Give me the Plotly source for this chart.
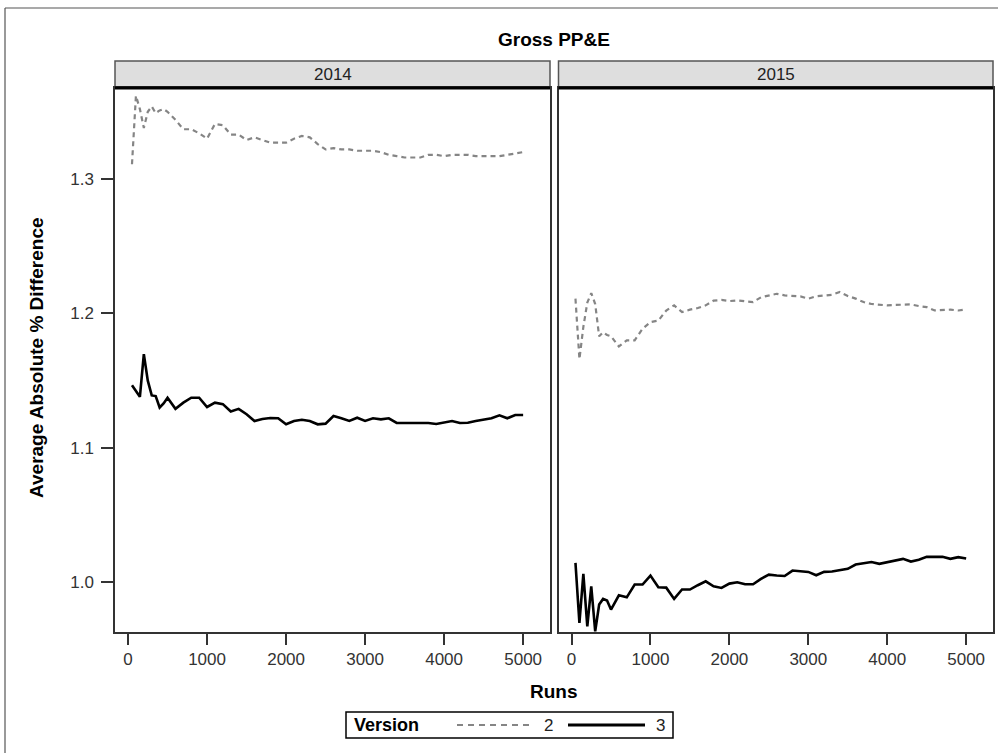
import plotly.graph_objects as go

W, H = 998, 753

runs = [50, 100, 150, 200, 250, 300, 350, 400, 450, 500,
        600, 700, 800, 900, 1000, 1100, 1200, 1300, 1400, 1500,
        1600, 1700, 1800, 1900, 2000, 2100, 2200, 2300, 2400, 2500,
        2600, 2700, 2800, 2900, 3000, 3100, 3200, 3300, 3400, 3500,
        3600, 3700, 3800, 3900, 4000, 4100, 4200, 4300, 4400, 4500,
        4600, 4700, 4800, 4900, 5000]

v2_2014 = [1.311, 1.362, 1.352, 1.338, 1.350, 1.354, 1.349, 1.351, 1.352, 1.350,
           1.344, 1.337, 1.337, 1.334, 1.330, 1.341, 1.340, 1.333, 1.333, 1.329,
           1.331, 1.329, 1.327, 1.327, 1.327, 1.330, 1.332, 1.331, 1.326, 1.322,
           1.323, 1.322, 1.322, 1.321, 1.321, 1.321, 1.320, 1.318, 1.317, 1.316,
           1.316, 1.316, 1.318, 1.318, 1.317, 1.318, 1.318, 1.318, 1.317, 1.317,
           1.317, 1.317, 1.318, 1.319, 1.320]

v3_2014 = [1.1466, 1.142, 1.138, 1.1697, 1.150, 1.139, 1.1385, 1.130, 1.133, 1.1373,
           1.129, 1.1336, 1.1373, 1.1373, 1.1304, 1.1336, 1.1325, 1.127, 1.129, 1.125,
           1.120, 1.1215, 1.1222, 1.122, 1.1175, 1.120, 1.1209, 1.120, 1.1175, 1.118,
           1.1237, 1.122, 1.120, 1.1224, 1.120, 1.122, 1.1212, 1.122, 1.1185, 1.1185,
           1.1185, 1.1185, 1.1185, 1.1178, 1.119, 1.120, 1.1185, 1.1187, 1.120, 1.1212,
           1.122, 1.1242, 1.122, 1.1244, 1.1244]

v2_2015 = [1.211, 1.166, 1.190, 1.208, 1.2151, 1.207, 1.183, 1.186, 1.184, 1.183,
           1.1754, 1.180, 1.180, 1.1886, 1.1935, 1.1947, 1.2022, 1.206, 1.201, 1.2028,
           1.204, 1.206, 1.2095, 1.210, 1.2092, 1.2097, 1.209, 1.2085, 1.212, 1.2135,
           1.2146, 1.2134, 1.213, 1.2127, 1.211, 1.2127, 1.2133, 1.2139, 1.2159, 1.213,
           1.211, 1.2085, 1.207, 1.2067, 1.206, 1.2063, 1.2067, 1.2067, 1.2055, 1.2047,
           1.2022, 1.2025, 1.2028, 1.2022, 1.203]

v3_2015 = [1.0144, 0.9697, 1.0062, 0.9672, 0.997, 0.9635, 0.9834, 0.9876, 0.9865, 0.9797,
           0.9903, 0.9888, 0.9983, 0.9983, 1.005, 0.9963, 0.996, 0.9876, 0.9946, 0.9946,
           0.9978, 1.0007, 0.997, 0.9958, 0.999, 1.000, 0.9985, 0.9985, 1.0025, 1.0057,
           1.005, 1.0047, 1.0087, 1.0082, 1.0077, 1.0052, 1.0077, 1.008, 1.0092, 1.010,
           1.0132, 1.014, 1.0151, 1.0137, 1.0151, 1.0165, 1.0174, 1.0154, 1.0167, 1.0189,
           1.0189, 1.0189, 1.0174, 1.0187, 1.0177]

years = ["2014", "2015"]
versions = ["2", "3"]
x_ticks = [0, 1000, 2000, 3000, 4000, 5000]
y_ticks = [1.0, 1.1, 1.2, 1.3]

FONT = "Liberation Sans, Arial, sans-serif"
GREY = "#858585"


def X(px):
    return px / W


def Y(py):
    return 1 - py / H


fig = go.Figure()

series = [("x", "y", v2_2014, "2"), ("x", "y", v3_2014, "3"),
          ("x2", "y2", v2_2015, "2"), ("x2", "y2", v3_2015, "3")]
for xa, ya, vals, ver in series:
    if ver == "2":
        line = dict(color=GREY, width=2.2, dash="5px,4px")
    else:
        line = dict(color="black", width=2.6)
    fig.add_trace(go.Scatter(x=runs, y=vals, mode="lines", line=line,
                             xaxis=xa, yaxis=ya, showlegend=False,
                             name="Version " + ver))

P1 = (115, 550)
P2 = (558.5, 993)
TOP, BOT = 88, 632
XR = [-165, 5340]
YR = [0.963, 1.3677]

axis_common = dict(showgrid=False, zeroline=False, showline=True, mirror=True,
                   linecolor="#333333", linewidth=1.5)
xcommon = dict(axis_common, range=XR, tickvals=x_ticks, ticks="outside",
               ticklen=11, tickwidth=1.5, tickcolor="#333333",
               tickfont=dict(family=FONT, size=17, color="#333333"))

fig.update_layout(
    width=W, height=H,
    margin=dict(l=0, r=0, t=0, b=0),
    paper_bgcolor="white", plot_bgcolor="white",
    showlegend=False,
    xaxis=dict(xcommon, domain=[X(P1[0]), X(P1[1])], anchor="y"),
    xaxis2=dict(xcommon, domain=[X(P2[0]), X(P2[1])], anchor="y2"),
    yaxis=dict(axis_common, domain=[Y(BOT), Y(TOP)], range=YR, anchor="x",
               tickvals=y_ticks, tickformat=".1f", ticks="outside",
               ticklen=12, tickwidth=1.5, tickcolor="#333333",
               ticklabelstandoff=4,
               tickfont=dict(family=FONT, size=17, color="#333333")),
    yaxis2=dict(axis_common, domain=[Y(BOT), Y(TOP)], range=YR, anchor="x2",
                showticklabels=False, ticks=""),
)

shapes = []
annotations = []

# outer frame (left and top edges)
shapes.append(dict(type="line", xref="paper", yref="paper",
                   x0=X(5), x1=X(998), y0=Y(8), y1=Y(8),
                   line=dict(color="#555555", width=1.2)))
shapes.append(dict(type="line", xref="paper", yref="paper",
                   x0=X(5), x1=X(5), y0=Y(8), y1=Y(753),
                   line=dict(color="#555555", width=1.2)))

# panel headers
for (l, r), yr in zip([P1, P2], years):
    shapes.append(dict(type="rect", xref="paper", yref="paper",
                       x0=X(l), x1=X(r), y0=Y(87), y1=Y(61),
                       fillcolor="#dedede", line=dict(color="#555555", width=1.5),
                       layer="below"))
    shapes.append(dict(type="line", xref="paper", yref="paper",
                       x0=X(l), x1=X(r), y0=Y(88), y1=Y(88),
                       line=dict(color="black", width=3)))
    annotations.append(dict(xref="paper", yref="paper", x=X((l + r) / 2), y=Y(74.5),
                            text=yr, showarrow=False, xanchor="center", yanchor="middle",
                            font=dict(family=FONT, size=17, color="#222222")))

# title
annotations.append(dict(xref="paper", yref="paper", x=X(554), y=Y(40),
                        text="<b>Gross PP&E</b>", showarrow=False,
                        xanchor="center", yanchor="middle",
                        font=dict(family=FONT, size=19, color="black")))
# axis titles
annotations.append(dict(xref="paper", yref="paper", x=X(554), y=Y(691),
                        text="<b>Runs</b>", showarrow=False,
                        xanchor="center", yanchor="middle",
                        font=dict(family=FONT, size=19, color="black")))
annotations.append(dict(xref="paper", yref="paper", x=X(36), y=Y(358),
                        text="<b>Average Absolute % Difference</b>", showarrow=False,
                        textangle=-90, xanchor="center", yanchor="middle",
                        font=dict(family=FONT, size=19, color="black")))

# legend box
LY = 725
shapes.append(dict(type="rect", xref="paper", yref="paper",
                   x0=X(346), x1=X(673), y0=Y(738), y1=Y(712),
                   line=dict(color="black", width=1.5), fillcolor="white"))
annotations.append(dict(xref="paper", yref="paper", x=X(352), y=Y(LY),
                        text="<b>Version</b>", showarrow=False,
                        xanchor="left", yanchor="middle",
                        font=dict(family=FONT, size=18, color="black")))
shapes.append(dict(type="line", xref="paper", yref="paper",
                   x0=X(457), x1=X(529), y0=Y(LY), y1=Y(LY),
                   line=dict(color=GREY, width=2.2, dash="6px,5px")))
annotations.append(dict(xref="paper", yref="paper", x=X(548), y=Y(LY),
                        text=versions[0], showarrow=False,
                        xanchor="center", yanchor="middle",
                        font=dict(family=FONT, size=17, color="#222222")))
shapes.append(dict(type="line", xref="paper", yref="paper",
                   x0=X(568), x1=X(645), y0=Y(LY), y1=Y(LY),
                   line=dict(color="black", width=3)))
annotations.append(dict(xref="paper", yref="paper", x=X(660), y=Y(LY),
                        text=versions[1], showarrow=False,
                        xanchor="center", yanchor="middle",
                        font=dict(family=FONT, size=17, color="#222222")))

fig.update_layout(shapes=shapes, annotations=annotations)

fig.write_html("out.html")
